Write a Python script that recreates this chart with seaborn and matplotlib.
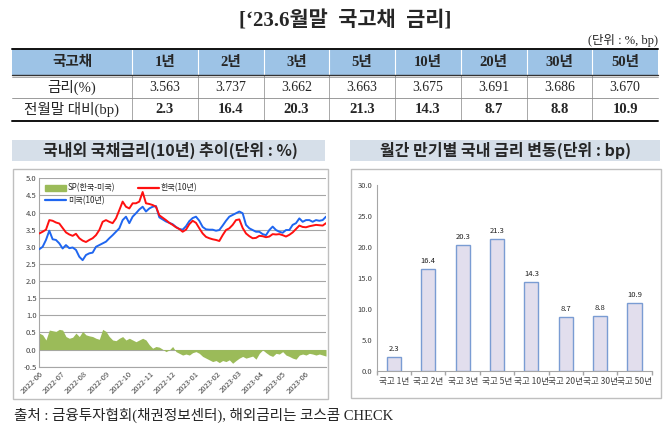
import numpy as np
import pandas as pd
import matplotlib
matplotlib.use('Agg')
import matplotlib.pyplot as plt
from matplotlib.patches import Rectangle, Patch
from matplotlib.lines import Line2D
import seaborn as sns

sns.set_theme(style='white')
plt.rcParams['font.family'] = ['Noto Sans CJK KR', 'DejaVu Sans']
plt.rcParams['axes.unicode_minus'] = False

SERIF = ['Liberation Serif', 'Noto Sans CJK KR']
SANS = ['Noto Sans CJK KR', 'DejaVu Sans']

# ---------------- data ----------------
main_title = "[\u201823.6월말  국고채  금리]"
unit_text = "(단위 : %, bp)"
table_header = ['국고채', '1년', '2년', '3년', '5년', '10년', '20년', '30년', '50년']
rate_label = '금리(%)'
rates = ['3.563', '3.737', '3.662', '3.663', '3.675', '3.691', '3.686', '3.670']
change_label = '전월말 대비(bp)'
changes = [2.3, 16.4, 20.3, 21.3, 14.3, 8.7, 8.8, 10.9]

left_title = '국내외 국채금리(10년) 추이(단위 : %)'
right_title = '월간 만기별 국내 금리 변동(단위 : bp)'
footer = '출처 : 금융투자협회(채권정보센터), 해외금리는 코스콤 CHECK'

bar_labels = ['국고 1년', '국고 2년', '국고 3년', '국고 5년', '국고 10년', '국고 20년', '국고 30년', '국고 50년']

start_date, end_date = '2022-06-01', '2023-06-30'
month_ticks = ['2022-06', '2022-07', '2022-08', '2022-09', '2022-10', '2022-11', '2022-12',
               '2023-01', '2023-02', '2023-03', '2023-04', '2023-05', '2023-06']

kr10 = [3.39, 3.44, 3.50, 3.78, 3.76, 3.71, 3.68, 3.55, 3.42, 3.36, 3.32, 3.38, 3.25, 3.18,
        3.14, 3.20, 3.25, 3.34, 3.49, 3.73, 3.78, 3.73, 3.69, 3.83, 4.07, 4.32, 4.17, 4.12,
        4.27, 4.27, 4.32, 4.60, 4.27, 4.25, 4.22, 4.17, 3.92, 3.85, 3.78, 3.70, 3.64, 3.57,
        3.52, 3.44, 3.50, 3.66, 3.76, 3.70, 3.54, 3.39, 3.29, 3.25, 3.22, 3.20, 3.17, 3.34,
        3.49, 3.54, 3.64, 3.78, 3.80, 3.55, 3.39, 3.31, 3.25, 3.26, 3.32, 3.31, 3.28, 3.30,
        3.37, 3.36, 3.37, 3.34, 3.30, 3.35, 3.42, 3.52, 3.62, 3.58, 3.57, 3.60, 3.62, 3.64,
        3.63, 3.62, 3.69]
us10 = [2.93, 3.00, 3.20, 3.47, 3.22, 3.20, 3.10, 2.95, 3.05, 2.96, 2.98, 2.91, 2.71, 2.61,
        2.76, 2.81, 2.83, 3.00, 3.05, 3.10, 3.15, 3.25, 3.34, 3.44, 3.54, 3.78, 3.88, 3.69,
        3.88, 3.98, 4.09, 4.17, 4.03, 4.12, 4.17, 4.19, 3.86, 3.80, 3.74, 3.70, 3.66, 3.58,
        3.52, 3.50, 3.60, 3.75, 3.84, 3.88, 3.76, 3.58, 3.51, 3.50, 3.50, 3.47, 3.49, 3.62,
        3.76, 3.88, 3.93, 3.98, 4.03, 3.98, 3.64, 3.54, 3.49, 3.44, 3.44, 3.37, 3.34, 3.49,
        3.59, 3.49, 3.44, 3.41, 3.49, 3.49, 3.64, 3.69, 3.83, 3.73, 3.78, 3.78, 3.73, 3.78,
        3.76, 3.78, 3.88]
spread = [0.48, 0.43, 0.28, 0.57, 0.55, 0.53, 0.59, 0.57, 0.38, 0.33, 0.36, 0.48, 0.38, 0.53,
          0.43, 0.40, 0.38, 0.33, 0.30, 0.59, 0.53, 0.38, 0.28, 0.26, 0.33, 0.38, 0.28, 0.33,
          0.28, 0.23, 0.28, 0.33, 0.28, 0.14, 0.04, 0.09, 0.07, 0.01, -0.06, -0.01, 0.09, -0.06,
          -0.11, -0.16, -0.13, -0.16, -0.09, -0.06, -0.11, -0.20, -0.25, -0.30, -0.35, -0.32,
          -0.38, -0.32, -0.35, -0.30, -0.40, -0.32, -0.25, -0.20, -0.25, -0.22, -0.19, -0.28,
          -0.11, -0.01, -0.09, -0.16, -0.20, -0.11, -0.13, -0.06, -0.16, -0.20, -0.25, -0.28,
          -0.16, -0.13, -0.16, -0.11, -0.13, -0.16, -0.13, -0.16, -0.19]

# ---------------- figure ----------------
W, H = 670, 428
fig = plt.figure(figsize=(W / 100, H / 100), dpi=100)
fig.patch.set_facecolor('white')

ax0 = fig.add_axes([0, 0, 1, 1], zorder=-1)
ax0.set_xlim(0, W)
ax0.set_ylim(H, 0)
ax0.axis('off')

# main title
ax0.text(345, 21, main_title, ha='center', va='center', fontsize=15, fontweight='bold', family=SERIF)
ax0.text(658, 40, unit_text, ha='right', va='center', fontsize=9, family=SERIF)

# table
tx0, tx1 = 12, 658
first_right = 132
cw = (tx1 - first_right) / 8
edges = [tx0, first_right] + [first_right + cw * (i + 1) for i in range(8)]
centers = [(edges[i] + edges[i + 1]) / 2 for i in range(9)]
ry = [49, 75, 98, 121]
ax0.add_patch(Rectangle((tx0, ry[0]), tx1 - tx0, ry[1] - ry[0], facecolor='#9DC3E6', edgecolor='none'))
for xe in edges[1:-1]:
    ax0.plot([xe, xe], [ry[0], ry[1]], color='white', lw=0.8)
    ax0.plot([xe, xe], [ry[1], ry[3]], color='#9a9a9a', lw=0.6)
ax0.plot([tx0, tx1], [ry[0], ry[0]], color='#111111', lw=1.4)
ax0.plot([tx0, tx1], [ry[1], ry[1]], color='#333333', lw=1.0)
ax0.plot([tx0, tx1], [ry[1] + 1.8, ry[1] + 1.8], color='#888888', lw=0.5)
ax0.plot([tx0, tx1], [ry[2], ry[2]], color='#8a8a8a', lw=0.6)
ax0.plot([tx0, tx1], [ry[3], ry[3]], color='#111111', lw=1.4)

for c, t in zip(centers, table_header):
    ax0.text(c, (ry[0] + ry[1]) / 2, t, ha='center', va='center', fontsize=10.5, fontweight='bold', family=SERIF)
ax0.text(centers[0], (ry[1] + ry[2]) / 2 + 1, rate_label, ha='center', va='center', fontsize=10.5, family=SERIF)
ax0.text(centers[0], (ry[2] + ry[3]) / 2, change_label, ha='center', va='center', fontsize=10.5, family=SERIF)
for c, v in zip(centers[1:], rates):
    ax0.text(c, (ry[1] + ry[2]) / 2 + 1, v, ha='center', va='center', fontsize=10, family=SERIF)
for c, v in zip(centers[1:], changes):
    ax0.text(c, (ry[2] + ry[3]) / 2, f'{v:.1f}', ha='center', va='center', fontsize=10.5,
             fontweight='bold', family=SERIF)

# panel title boxes and frames
ax0.add_patch(Rectangle((12, 140), 313, 21, facecolor='#D6DFE9', edgecolor='none'))
ax0.text(170, 150.5, left_title, ha='center', va='center', fontsize=11.5, fontweight='bold', family=SANS)
ax0.add_patch(Rectangle((350, 140), 310, 21, facecolor='#D6DFE9', edgecolor='none'))
ax0.text(506, 150.5, right_title, ha='center', va='center', fontsize=11.5, fontweight='bold', family=SANS)
ax0.add_patch(Rectangle((12.5, 169), 315.5, 230, facecolor='white', edgecolor='#BFBFBF', lw=1))
ax0.add_patch(Rectangle((350.5, 169), 310, 229, facecolor='white', edgecolor='#BFBFBF', lw=1))

ax0.text(14, 415, footer, ha='left', va='center', fontsize=10.5, family=SERIF)

# ---------------- left chart ----------------
axL = fig.add_axes([39.3 / W, (H - 366.7) / H, (326 - 39.3) / W, (366.7 - 178.3) / H])
axL.set_facecolor('none')
dfL = pd.DataFrame({
    'date': pd.date_range(start_date, end_date, periods=len(kr10)),
    'kr': kr10,
    'us': us10,
})
dfS = pd.DataFrame({'date': pd.date_range(start_date, end_date, periods=len(spread)), 'sp': spread})
axL.fill_between(dfS['date'], 0, dfS['sp'], color='#9BBB59', lw=0, zorder=2)
sns.lineplot(data=dfL, x='date', y='kr', color='#FF1010', lw=1.4, ax=axL, zorder=4)
sns.lineplot(data=dfL, x='date', y='us', color='#1F66F0', lw=1.4, ax=axL, zorder=3)
axL.set_xlim(pd.Timestamp(start_date), pd.Timestamp(end_date))
axL.set_ylim(-0.5, 5.0)
yt = np.arange(-0.5, 5.01, 0.5)
axL.set_yticks(yt)
axL.set_yticklabels([f'{v:.1f}' for v in yt], fontsize=5.5, color='#404040', family=SANS)
axL.set_xticks(pd.to_datetime([m + '-01' for m in month_ticks]))
axL.set_xticklabels(month_ticks, rotation=45, ha='right', rotation_mode='anchor', fontsize=5.5,
                    color='#404040', family=SANS)
axL.set_xlabel('')
axL.set_ylabel('')
axL.grid(axis='y', color='#A6A6A6', lw=0.8)
axL.grid(axis='x', visible=False)
for s in ['top', 'right']:
    axL.spines[s].set_visible(False)
for s in ['left', 'bottom']:
    axL.spines[s].set_color('#A6A6A6')
    axL.spines[s].set_linewidth(0.8)
axL.tick_params(axis='both', length=0, pad=2)
handles = [Patch(color='#9BBB59'), Line2D([], [], color='#1F66F0', lw=1.6), Line2D([], [], color='#FF1010', lw=1.6)]
axL.legend(handles, ['SP(한국-미국)', '미국(10년)', '한국(10년)'], ncol=2, loc='upper left',
           bbox_to_anchor=(0.01, 0.99), frameon=False, fontsize=5.8, handlelength=2.6,
           columnspacing=2.8, labelspacing=0.4, handletextpad=0.2, borderaxespad=0)

# ---------------- right chart ----------------
axR = fig.add_axes([376.7 / W, (H - 371) / H, 275 / W, 186 / H])
axR.set_facecolor('none')
dfR = pd.DataFrame({'label': bar_labels, 'bp': changes})
sns.barplot(data=dfR, x='label', y='bp', color='#E2DEED', edgecolor='#7A9CD3', linewidth=1.0,
            width=0.41, saturation=1, ax=axR, zorder=3)
axR.bar_label(axR.containers[0], fmt='%.1f', padding=3, fontsize=5.5, color='#202020', family=SANS)
axR.set_xlim(-0.5, len(bar_labels) - 0.5)
axR.set_ylim(0, 30)
yr = np.arange(0, 30.1, 5)
axR.set_yticks(yr)
axR.set_yticklabels([f'{v:.1f}' for v in yr], fontsize=5.5, color='#404040', family=SANS)
axR.set_xticks(range(len(bar_labels)))
axR.set_xticklabels(bar_labels, fontsize=6.2, color='#404040', family=SANS)
axR.set_xticks(np.arange(-0.5, len(bar_labels), 1), minor=True)
axR.tick_params(axis='x', which='major', length=0, pad=4)
axR.tick_params(axis='x', which='minor', length=3, color='#A6A6A6', bottom=True)
axR.tick_params(axis='y', length=0, pad=3)
axR.set_xlabel('')
axR.set_ylabel('')
axR.grid(False)
for s in ['top', 'right']:
    axR.spines[s].set_visible(False)
for s in ['left', 'bottom']:
    axR.spines[s].set_color('#A6A6A6')
    axR.spines[s].set_linewidth(0.8)

fig.savefig('out.png', dpi=100)
